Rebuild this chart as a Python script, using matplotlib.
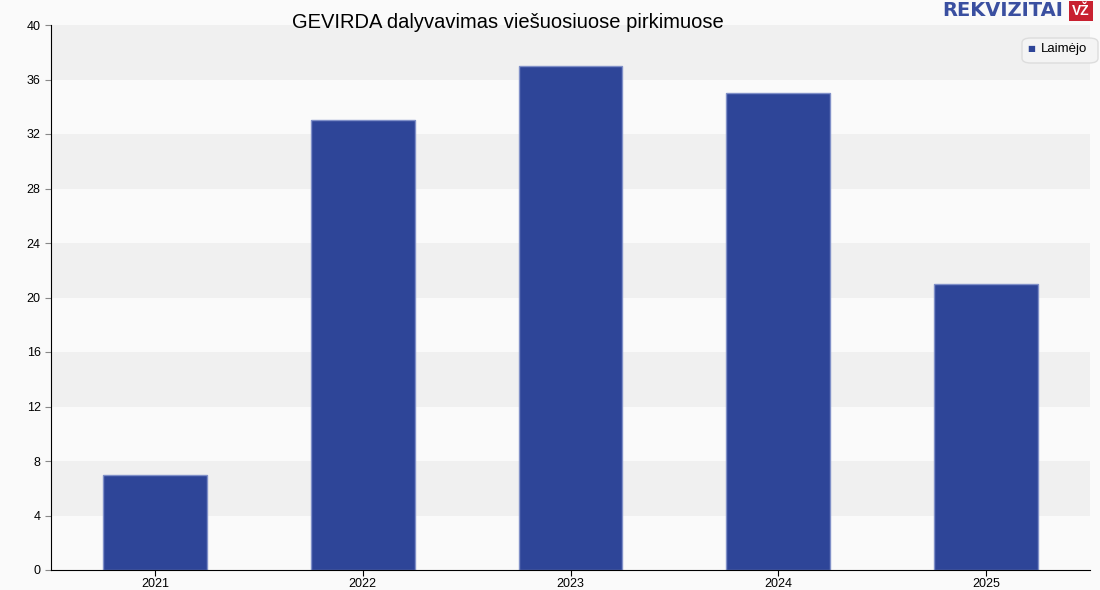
import matplotlib.pyplot as plt
from matplotlib.patches import FancyBboxPatch

plt.rcParams['font.family'] = ['Liberation Sans', 'DejaVu Sans']

years = ['2021', '2022', '2023', '2024', '2025']
won = [7, 33, 37, 35, 21]
y_ticks = [0, 4, 8, 12, 16, 20, 24, 28, 32, 36, 40]

bar_color = '#2e4598'

fig = plt.figure(figsize=(11, 5.9), dpi=100, facecolor='#fafafa')
ax = fig.add_axes([51 / 1100, 20 / 590, 1039 / 1100, 545 / 590])
ax.set_facecolor('#fafafa')

# alternating horizontal bands
for lo in y_ticks[1:-1:2]:
    ax.axhspan(lo, lo + 4, color='#f0f0f0', zorder=0, lw=0)

x = range(len(years))
ax.bar(x, won, width=0.5, color=bar_color, edgecolor='#8090c8', linewidth=1, zorder=2)

ax.set_xlim(-0.5, len(years) - 0.5)
ax.set_ylim(0, 40)
ax.set_yticks(y_ticks)
ax.set_xticks(list(x))
ax.set_xticklabels(years)
ax.tick_params(axis='y', labelsize=9, length=4, color='#888888')
ax.tick_params(axis='x', labelsize=9, length=4, pad=1.5, color='#000000')
for s in ['top', 'right']:
    ax.spines[s].set_visible(False)

fig.text(508 / 1100, 1 - 22 / 590, 'GEVIRDA dalyvavimas viešuosiuose pirkimuose',
         ha='center', va='center', fontsize=14.5)

# legend box
box = FancyBboxPatch((1022 / 1100, 1 - 63 / 590), 76 / 1100, 25 / 590,
                     boxstyle='round,pad=0,rounding_size=0.008', transform=fig.transFigure,
                     facecolor='#f4f4f4', edgecolor='#dddddd', lw=1, zorder=5)
fig.patches.append(box)
fig.text(1031 / 1100, 1 - 49 / 590, '■', color=bar_color, fontsize=6,
         ha='center', va='center', family='DejaVu Sans', zorder=6)
fig.text(1041 / 1100, 1 - 49 / 590, 'Laimėjo', fontsize=9.5, ha='left', va='center', zorder=6)

# logo
fig.text(1063 / 1100, 1 - 11 / 590, 'REKVIZITAI', color='#3a4fa0', fontsize=14,
         fontweight='bold', ha='right', va='center', family='Liberation Sans Narrow')
fig.text(1081 / 1100, 1 - 11 / 590, 'VŽ', color='white', fontsize=10, fontweight='bold',
         ha='center', va='center',
         bbox=dict(boxstyle='square,pad=0.2', facecolor='#c8202f', edgecolor='none'))

fig.savefig('out.png', dpi=100, facecolor=fig.get_facecolor())
